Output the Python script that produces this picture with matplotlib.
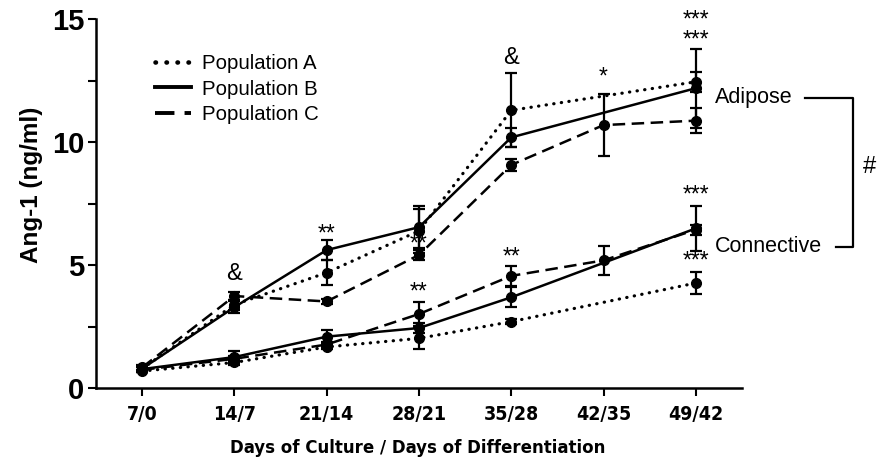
import numpy as np
import matplotlib
matplotlib.use("Agg")
import matplotlib.pyplot as plt
from matplotlib.lines import Line2D
from matplotlib import font_manager as fm

categories = ["7/0", "14/7", "21/14", "28/21", "35/28", "42/35", "49/42"]

# Adipose group (None = no measurement drawn)
adi_A = [0.8, 3.4, 4.7, 6.4, 11.3, None, 12.46]
adi_A_err = [0.1, 0.2, 0.5, 0.9, 1.5, None, 0.4]
adi_B = [0.8, 3.3, 5.62, 6.55, 10.2, None, 12.2]
adi_B_err = [0.1, 0.25, 0.4, 0.85, 0.4, None, 1.6]
adi_C = [0.85, 3.75, 3.53, 5.42, 9.08, 10.7, 10.88]
adi_C_err = [0.1, 0.15, 0.12, 0.2, 0.25, 1.25, 0.5]

# Connective group
con_A = [0.7, 1.05, 1.68, 2.03, 2.71, None, 4.28]
con_A_err = [0.05, 0.1, 0.1, 0.45, 0.1, None, 0.45]
con_B = [0.78, 1.27, 2.1, 2.45, 3.7, None, 6.5]
con_B_err = [0.1, 0.25, 0.25, 0.2, 0.4, None, 0.9]
con_C = [0.75, 1.2, 1.78, 3.02, 4.57, 5.2, 6.45]
con_C_err = [0.1, 0.1, 0.1, 0.5, 0.4, 0.6, 0.2]

legend_labels = ["Population A", "Population B", "Population C"]

# pick a condensed bold font for the x axis texts if one is installed
avail = {(f.name, f.stretch) for f in fm.fontManager.ttflist}
names = {n for n, s in avail}
if "Liberation Sans Narrow" in names:
    xtick_font = dict(family=["Liberation Sans Narrow", "DejaVu Sans"], fontsize=13.5)
    xlab_font = dict(family=["Liberation Sans Narrow", "DejaVu Sans"], fontsize=13.5)
elif ("DejaVu Sans", "condensed") in avail or ("DejaVu Sans", 600) in avail:
    xtick_font = dict(family=["DejaVu Sans"], fontstretch="condensed", fontsize=14)
    xlab_font = dict(family=["DejaVu Sans"], fontstretch="condensed", fontsize=13.3)
else:
    xtick_font = dict(family=["DejaVu Sans"], fontsize=12)
    xlab_font = dict(family=["DejaVu Sans"], fontsize=12)

W, H = 892, 465
fig = plt.figure(figsize=(W / 100, H / 100), dpi=100)
ax = fig.add_axes([96 / W, 1 - 388.3 / H, (742 - 96) / W, (388.3 - 19.3) / H])

styles = {
    "A": dict(linestyle=(0, (0.1, 2.3)), dash_capstyle="round", lw=2.3),
    "B": dict(linestyle="-", lw=1.8),
    "C": dict(linestyle=(0, (5, 2.6)), lw=1.8),
}


def draw(vals, errs, key):
    x = [i for i, v in enumerate(vals) if v is not None]
    y = [v for v in vals if v is not None]
    e = [errs[i] for i in x]
    ax.plot(x, y, color="black", **styles[key], zorder=3)
    ax.errorbar(x, y, yerr=e, fmt="o", color="black", ms=7, capsize=4.5,
                elinewidth=1.6, capthick=1.6, zorder=4)


for vals, errs, key in [(adi_A, adi_A_err, "A"), (adi_B, adi_B_err, "B"),
                        (adi_C, adi_C_err, "C"), (con_A, con_A_err, "A"),
                        (con_B, con_B_err, "B"), (con_C, con_C_err, "C")]:
    draw(vals, errs, key)

ax.set_xlim(-0.5, 6.5)
ax.set_ylim(0, 15)
ax.set_xticks(range(len(categories)))
ax.set_xticklabels(categories, fontweight="bold", **xtick_font)
ax.set_yticks([0, 5, 10, 15])
ax.set_yticks([2.5, 7.5, 12.5], minor=True)
ax.set_yticklabels(["0", "5", "10", "15"], fontsize=21, fontweight="bold",
                   family=["Liberation Sans", "DejaVu Sans"])
ax.tick_params(axis="both", which="both", direction="out", width=1.5, length=6)
ax.tick_params(axis="y", which="major", pad=2.5)
ax.tick_params(axis="x", which="major", pad=6)
for s in ["top", "right"]:
    ax.spines[s].set_visible(False)
for s in ["left", "bottom"]:
    ax.spines[s].set_linewidth(1.8)

ax.set_ylabel("Ang-1 (ng/ml)", fontsize=17.5, fontweight="bold",
              family=["Liberation Sans", "DejaVu Sans"])
ax.yaxis.set_label_coords((43 - 96) / 646, (388.3 - 185) / 369)
ax.set_xlabel("Days of Culture / Days of Differentiation", fontweight="bold",
              **xlab_font)
ax.xaxis.set_label_coords((418 - 96) / 646, (388.3 - 439) / 369)

handles = [Line2D([], [], color="black", **dict(styles[k], lw=styles[k]["lw"] + 1.0))
           for k in "ABC"]
ax.legend(handles, legend_labels, loc="upper left",
          bbox_to_anchor=((155 - 96) / 646, (388.3 - 54) / 369),
          frameon=False, handlelength=1.75, handletextpad=0.55,
          labelspacing=0.32, borderpad=0, borderaxespad=0,
          prop={"family": ["Liberation Sans", "DejaVu Sans"], "size": 14.7})

txt = dict(ha="center", va="center", color="black",
           family=["Liberation Sans", "DejaVu Sans"])
star = dict(txt, fontsize=16.5)
amp = dict(txt, fontsize=17)


def yv(py):
    return (388.3 - py) / 24.6


def xv(px):
    return (px - 142) / 92.3


ax.text(1, yv(274), "&", **amp)
ax.text(4, yv(58), "&", **amp)
ax.text(2, yv(234), "**", **star)
ax.text(3, yv(244), "**", **star)
ax.text(3, yv(292), "**", **star)
ax.text(4, yv(257), "**", **star)
ax.text(5, yv(77), "*", **star)
ax.text(6, yv(30), "***\n***", linespacing=0.85, **star)
ax.text(6, yv(195), "***", **star)
ax.text(6, yv(261), "***", **star)

lab = dict(ha="left", va="center", fontsize=15.5,
           family=["Liberation Sans", "DejaVu Sans"])
ax.text(xv(715), yv(97.7), "Adipose", **lab)
ax.text(xv(715), yv(246.7), "Connective", **lab)
ax.plot([xv(805), xv(852.7), xv(852.7), xv(836)],
        [yv(97.7), yv(97.7), yv(246.7), yv(246.7)],
        color="black", lw=1.6, clip_on=False)
ax.text(xv(869), yv(167), "#", ha="center", va="center", fontsize=17,
        family=["Liberation Sans", "DejaVu Sans"])

fig.savefig("out.png", dpi=100)
